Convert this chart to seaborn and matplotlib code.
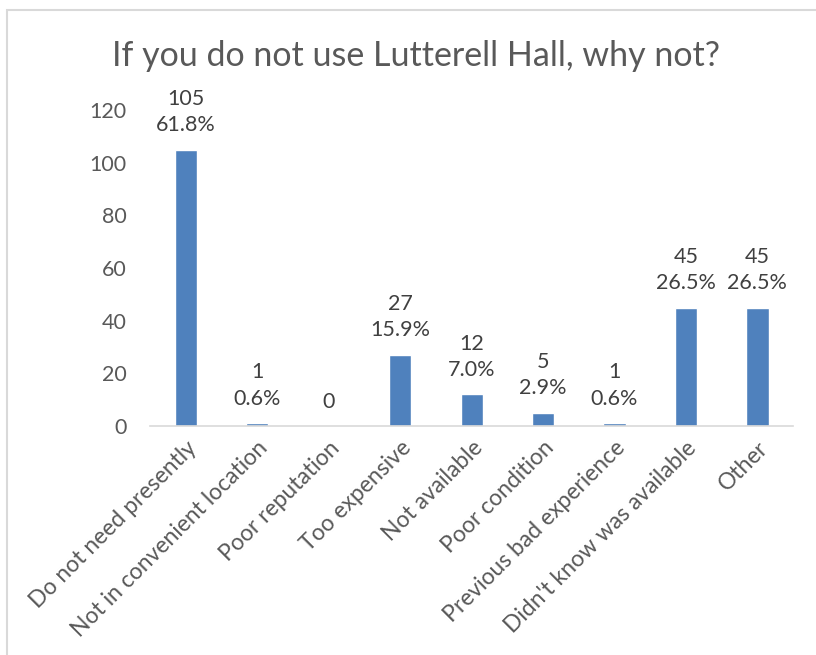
import matplotlib
matplotlib.use("Agg")
import matplotlib.pyplot as plt
import seaborn as sns
import pandas as pd
from matplotlib.patches import Rectangle

# data
reasons = ["Do not need presently", "Not in convenient location", "Poor reputation",
           "Too expensive", "Not available", "Poor condition",
           "Previous bad experience", "Didn't know was available", "Other"]
counts = [105, 1, 0, 27, 12, 5, 1, 45, 45]
percents = ["61.8%", "0.6%", "", "15.9%", "7.0%", "2.9%", "0.6%", "26.5%", "26.5%"]

df = pd.DataFrame({"Reason": reasons, "Count": counts})

sns.set_style("white")
plt.rcParams['font.family'] = ['Lato', 'DejaVu Sans']
grey = "#595959"

fig = plt.figure(figsize=(8.16, 6.55), dpi=100)
ax = fig.add_axes([0.184, 0.3496, 0.788, 0.4824])

sns.barplot(data=df, x="Reason", y="Count", color="#4F81BD", width=0.31,
            saturation=1, ax=ax)

ax.set_ylim(0, 120)
ax.set_yticks(range(0, 121, 20))
ax.set_xlim(-0.5, len(reasons) - 0.5)
ax.set_xlabel("")
ax.set_ylabel("")

for i, (c, p) in enumerate(zip(counts, percents)):
    txt = f"{c}\n{p}" if p else f"{c}"
    ax.text(i, c + 5.5, txt, ha="center", va="bottom", fontsize=15.5,
            color="#404040", linespacing=1.4)

for s in ["top", "right", "left"]:
    ax.spines[s].set_visible(False)
ax.spines["bottom"].set_color("#d9d9d9")
ax.spines["bottom"].set_linewidth(1.2)

ax.tick_params(axis="y", length=0, labelsize=15.5, labelcolor=grey, pad=17)
ax.tick_params(axis="x", length=0, labelsize=16.5, labelcolor=grey, pad=8)
plt.setp(ax.get_xticklabels(), rotation=45, ha="right", rotation_mode="anchor")

fig.text(0.51, 0.915, "If you do not use Lutterell Hall, why not?", ha="center",
         va="center", fontsize=24.5, color=grey)

# chart frame (cropped at right and bottom)
fig.patches.append(Rectangle((7 / 816, -0.05), 1.1, 1 - 10 / 655 + 0.05,
                             transform=fig.transFigure, fill=False,
                             edgecolor="#d9d9d9", linewidth=1.5))

fig.savefig("out.png", dpi=100)
